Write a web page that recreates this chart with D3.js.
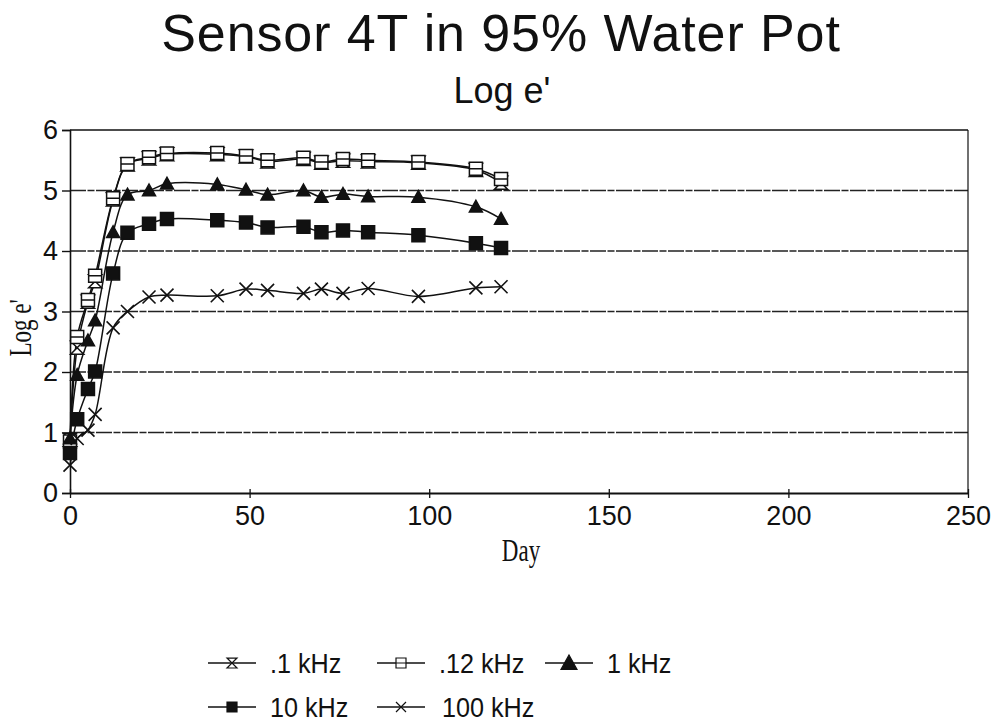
<!DOCTYPE html>
<html>
<head>
<meta charset="utf-8">
<script src="https://cdn.jsdelivr.net/npm/d3@7/dist/d3.min.js"></script>
<style>
  html, body { margin: 0; padding: 0; background: #fff; }
  svg { display: block; }
  .sans { font-family: "Liberation Sans", Arial, sans-serif; fill: #111; }
  .serif { font-family: "Liberation Serif", "DejaVu Serif", serif; fill: #111; }
</style>
</head>
<body>
<svg id="chart" width="1005" height="728"></svg>
<script>
// Measurement days
const days = [0, 2, 5, 7, 12, 16, 22, 27, 41, 49, 55, 65, 70, 76, 83, 97, 113, 120];

// Log e' readings for each frequency
const k01   = [0.88, 2.40, 3.16, 3.50, 4.85, 5.43, 5.53, 5.60, 5.60, 5.56, 5.48, 5.52, 5.46, 5.49, 5.48, 5.46, 5.34, 5.13];
const k012  = [0.85, 2.58, 3.19, 3.59, 4.87, 5.44, 5.55, 5.61, 5.62, 5.57, 5.50, 5.54, 5.47, 5.52, 5.50, 5.47, 5.36, 5.19];
const k1    = [0.90, 1.95, 2.52, 2.85, 4.31, 4.93, 5.00, 5.11, 5.10, 5.01, 4.93, 5.00, 4.89, 4.94, 4.90, 4.89, 4.73, 4.53];
const k10   = [0.66, 1.22, 1.72, 2.01, 3.63, 4.30, 4.45, 4.53, 4.51, 4.47, 4.39, 4.40, 4.31, 4.34, 4.31, 4.26, 4.13, 4.05];
const k100  = [0.46, 0.90, 1.04, 1.30, 2.73, 3.00, 3.24, 3.27, 3.26, 3.37, 3.35, 3.30, 3.37, 3.30, 3.38, 3.25, 3.39, 3.41];

const seriesNames = [".1 kHz", ".12 kHz", "1 kHz", "10 kHz", "100 kHz"];
const seriesValues = [k01, k012, k1, k10, k100];
const seriesMarkers = ["hourglass", "barSquare", "triangle", "square", "cross"];

const xTicks = [0, 50, 100, 150, 200, 250];
const yTicks = [0, 1, 2, 3, 4, 5, 6];

const svg = d3.select("#chart");
const ink = "#111";

const x = d3.scaleLinear().domain([0, 250]).range([70, 968]);
const y = d3.scaleLinear().domain([0, 6]).range([493, 130]);

// Titles
svg.append("text").attr("class", "sans")
  .attr("x", 501).attr("y", 51)
  .attr("text-anchor", "middle").attr("font-size", 52)
  .attr("letter-spacing", 0.9)
  .text("Sensor 4T in 95% Water Pot");
svg.append("text").attr("class", "sans")
  .attr("x", 502).attr("y", 103)
  .attr("text-anchor", "middle").attr("font-size", 36)
  .text("Log e'");

// Horizontal gridlines
svg.append("g").selectAll("line").data(yTicks.filter(d => d > 0 && d < 6)).join("line")
  .attr("x1", x(0)).attr("x2", x(250))
  .attr("y1", d => y(d)).attr("y2", d => y(d))
  .attr("stroke", "#222").attr("stroke-width", 1.4)
  .attr("stroke-dasharray", "16,1.5,7,1.5");

// Frame: top and right edges
svg.append("line").attr("x1", x(0)).attr("x2", x(250)).attr("y1", y(6)).attr("y2", y(6))
  .attr("stroke", ink).attr("stroke-width", 1.4);
svg.append("line").attr("x1", x(250)).attr("x2", x(250)).attr("y1", y(6)).attr("y2", y(0))
  .attr("stroke", ink).attr("stroke-width", 1.2);

// Axes
const yAxis = d3.axisLeft(y).tickValues(yTicks).tickSize(8).tickPadding(4).tickFormat(d3.format("d"));
const gy = svg.append("g").attr("transform", `translate(${x(0)},0)`).call(yAxis);
gy.select(".domain").attr("stroke", ink).attr("stroke-width", 1.6);
gy.selectAll(".tick line").attr("stroke", ink).attr("stroke-width", 1.4);
gy.selectAll(".tick text").attr("font-size", 27).attr("fill", ink)
  .attr("font-family", "'Liberation Sans', Arial, sans-serif");

const xAxis = d3.axisBottom(x).tickValues(xTicks).tickSizeInner(5).tickSizeOuter(0).tickPadding(8).tickFormat(d3.format("d"));
const gx = svg.append("g").attr("transform", `translate(0,${y(0)})`).call(xAxis);
gx.select(".domain").attr("stroke", ink).attr("stroke-width", 1.8);
gx.selectAll(".tick line").attr("stroke", ink).attr("stroke-width", 1.3).attr("y1", -4);
gx.selectAll(".tick text").attr("font-size", 27).attr("fill", ink)
  .attr("font-family", "'Liberation Sans', Arial, sans-serif");

// Axis titles
svg.append("text").attr("class", "serif")
  .attr("transform", "translate(521,561) scale(1,1.35)")
  .attr("text-anchor", "middle").attr("font-size", 23)
  .text("Day");
svg.append("text").attr("class", "serif")
  .attr("transform", "translate(31,328) rotate(-90) scale(1,1.4)")
  .attr("text-anchor", "middle").attr("font-size", 23)
  .text("Log e'");

// Marker shapes
function markerPath(type, s) {
  const h = s / 2;
  switch (type) {
    case "hourglass":
      return `M${-h},${-h}H${h}L0,0L${h},${h}H${-h}L0,0Z M${-h},${-h + 0.1}H${h} M${-h},${h}H${h}`;
    case "barSquare":
      return `M${-h},${-h}H${h}V${h}H${-h}Z M${-h},0H${h}`;
    case "triangle":
      return `M0,${-h}L${h},${h * 0.8}H${-h}Z`;
    case "square":
      return `M${-h},${-h}H${h}V${h}H${-h}Z`;
    case "cross":
      return `M${-h},${-h}L${h},${h}M${h},${-h}L${-h},${h}`;
  }
}
function markerFill(type) {
  return (type === "triangle" || type === "square") ? ink : (type === "cross" ? "none" : "#fff");
}

const line = d3.line().curve(d3.curveCatmullRom.alpha(0.5))
  .x(d => x(d[0])).y(d => y(d[1]));

const plot = svg.append("g");
seriesValues.forEach(vals => {
  plot.append("path")
    .datum(days.map((d, i) => [d, vals[i]]))
    .attr("d", line)
    .attr("fill", "none").attr("stroke", ink).attr("stroke-width", 1.5);
});
seriesValues.forEach((vals, k) => {
  const type = seriesMarkers[k];
  plot.append("g").selectAll("path")
    .data(days.map((d, i) => [d, vals[i]]))
    .join("path")
    .attr("transform", d => `translate(${x(d[0])},${y(d[1])})`)
    .attr("d", markerPath(type, 13))
    .attr("fill", markerFill(type))
    .attr("stroke", ink).attr("stroke-width", type === "cross" ? 1.6 : 1.5);
});

// Legend
const legendPos = [[208, 663], [377, 663], [545, 663], [208, 707], [377, 707]];
const legend = svg.append("g");
seriesNames.forEach((name, k) => {
  const [lx, ly] = legendPos[k];
  const g = legend.append("g").attr("transform", `translate(${lx},${ly})`);
  g.append("line").attr("x1", 0).attr("x2", 48).attr("y1", 0).attr("y2", 0)
    .attr("stroke", ink).attr("stroke-width", 1.3);
  const t = seriesMarkers[k];
  g.append("path").attr("transform", "translate(24,0)")
    .attr("d", markerPath(t, t === "triangle" ? 16 : 10))
    .attr("fill", markerFill(t)).attr("stroke", ink).attr("stroke-width", 1.2);
  g.append("text").attr("class", "sans")
    .attr("transform", `translate(${k === 4 ? 65 : 62},10) scale(0.9,1)`)
    .attr("font-size", 28)
    .text(name);
});
</script>
</body>
</html>
